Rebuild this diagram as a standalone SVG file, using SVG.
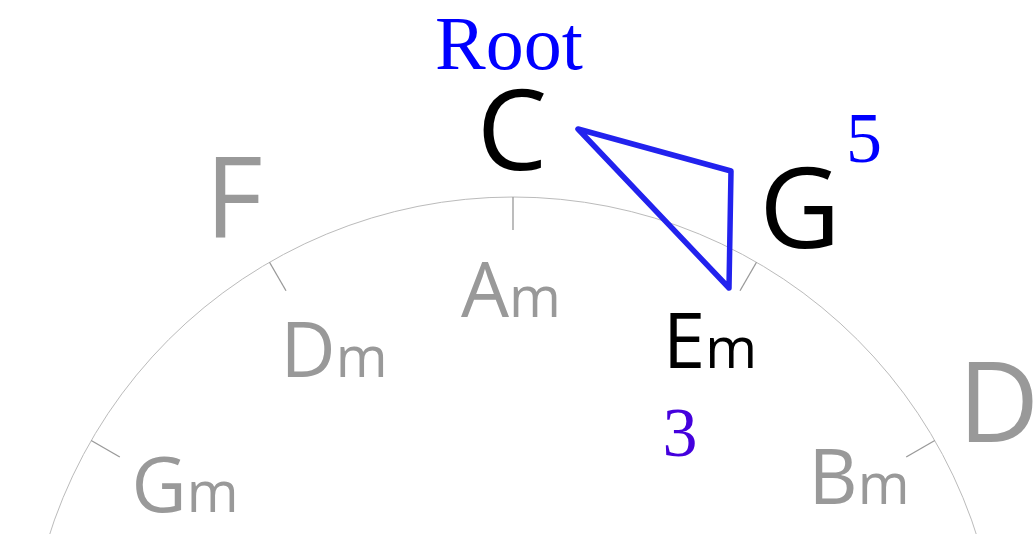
<svg xmlns="http://www.w3.org/2000/svg" width="1034" height="534" viewBox="0 0 1034 534">
<style>
.maj{font-family:"Open Sans","Noto Sans",sans-serif;font-size:112px;text-anchor:middle}
.min{font-family:"Open Sans","Noto Sans",sans-serif;font-size:76px;text-anchor:middle}
.min tspan.m{font-size:56px}
.grey{fill:#999999}
.black{fill:#000000}
.lbl{font-family:"Liberation Serif",serif;text-anchor:middle}
.tick{stroke:#999999;stroke-width:1.3}
</style>
<rect width="1034" height="534" fill="#ffffff"/>
<g id="wheel">
<circle cx="513" cy="684" r="487" fill="none" stroke="#bbbbbb" stroke-width="1"/>
<line class="tick" x1="513" y1="197" x2="513" y2="230"/>
<line class="tick" x1="269.5" y1="262.2" x2="286" y2="290.8"/>
<line class="tick" x1="756.5" y1="262.2" x2="740" y2="290.8"/>
<line class="tick" x1="91.2" y1="440.5" x2="119.8" y2="457"/>
<line class="tick" x1="934.8" y1="440.5" x2="906.2" y2="457"/>
</g>
<g id="node-F"><text class="maj grey" x="234" y="237">F</text></g>
<g id="node-C"><text class="maj black" x="512" y="170">C</text></g>
<g id="node-G"><text class="maj black" x="800" y="248">G</text></g>
<g id="node-D"><text class="maj grey" x="958" y="442" style="text-anchor:start">D</text></g>
<g id="node-Am"><text class="min grey" x="511" y="317">A<tspan class="m">m</tspan></text></g>
<g id="node-Dm"><text class="min grey" x="334" y="377">D<tspan class="m">m</tspan></text></g>
<g id="node-Em"><text class="min black" x="710" y="368">E<tspan class="m">m</tspan></text></g>
<g id="node-Gm"><text class="min grey" x="185" y="512">G<tspan class="m">m</tspan></text></g>
<g id="node-Bm"><text class="min grey" x="859" y="504">B<tspan class="m">m</tspan></text></g>
<g id="connectors">
<polygon points="578,129 731,171 729,288" fill="none" stroke="#2222ee" stroke-width="5.5" stroke-linejoin="round"/>
</g>
<g id="labels">
<text class="lbl" x="509" y="69" font-size="76" fill="#0000ff">Root</text>
<text class="lbl" x="864" y="162" font-size="72" fill="#0000ff">5</text>
<text class="lbl" x="680" y="456" font-size="70" fill="#4400dd">3</text>
</g>
</svg>
